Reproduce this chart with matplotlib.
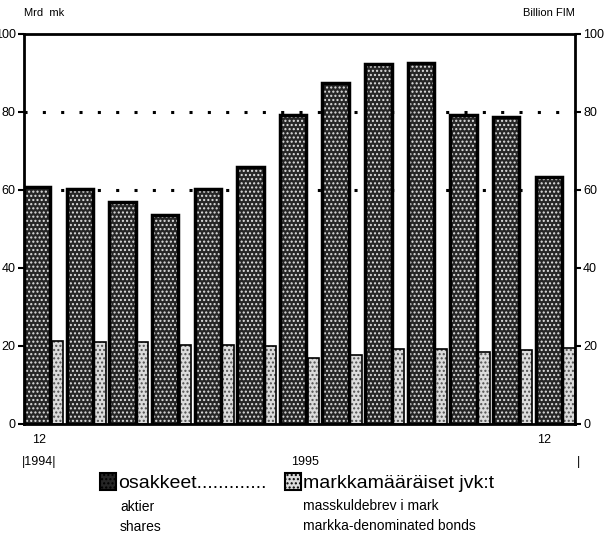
import numpy as np
from matplotlib import pyplot as plt
from matplotlib.patches import Rectangle

plt.rcParams['font.family'] = ['Liberation Sans', 'DejaVu Sans']

# month index 0..12 (Dec 1994 .. Dec 1995)
months = list(range(13))
shares = [60.8, 60.3, 56.9, 53.6, 60.3, 65.9, 79.2, 87.4, 92.3, 92.6, 79.2, 78.7, 63.3]
bonds = [21.3, 21.0, 21.0, 20.3, 20.3, 20.0, 16.9, 17.7, 19.2, 19.2, 18.5, 19.0, 19.5]
yticks = [0, 20, 40, 60, 80, 100]

dark_w = 0.62
light_off = 0.65
light_w = 0.27

fig = plt.figure(figsize=(6.06, 5.39), dpi=100)
ax = fig.add_axes([0.0396, 0.2134, 0.909, 0.7236])

x = np.array(months)
for lev in [60, 80]:
    ax.axhline(lev, color='black', linestyle=(0, (1, 5)), linewidth=2.2, zorder=0)

# dark bars: fill + white dot texture + black border
ax.bar(x, shares, width=dark_w, align='edge', color='#262626', linewidth=0, zorder=2)
ax.bar(x, shares, width=dark_w, align='edge', fill=False, hatch='....',
       edgecolor='#e0e0e0', linewidth=0, zorder=3)
ax.bar(x, shares, width=dark_w, align='edge', fill=False, edgecolor='black',
       linewidth=2.5, zorder=4)
# light bars
ax.bar(x + light_off, bonds, width=light_w, align='edge', color='#dcdcdc', linewidth=0, zorder=2)
ax.bar(x + light_off, bonds, width=light_w, align='edge', fill=False, hatch='....',
       edgecolor='#505050', linewidth=0, zorder=3)
ax.bar(x + light_off, bonds, width=light_w, align='edge', fill=False, edgecolor='black',
       linewidth=1.2, zorder=4)

ax.set_xlim(0, 12 + light_off + light_w)
ax.set_ylim(0, 100)
ax.set_yticks(yticks)
ax.set_yticklabels([str(v) for v in yticks], fontsize=9)
ax.tick_params(axis='y', direction='out', length=4, width=1.5, pad=2,
               left=True, right=True, labelleft=True, labelright=True)
ax.set_xticks([])
for sp in ax.spines.values():
    sp.set_linewidth(2)

ax.text(0, 104, 'Mrd  mk', fontsize=8, ha='left', va='bottom')
ax.text(12.92, 104, 'Billion FIM', fontsize=8, ha='right', va='bottom')

# x labels
ax.text(0.35, -2.6, '12', fontsize=9, ha='center', va='top', clip_on=False)
ax.text(0.35, -8.3, '|1994|', fontsize=9, ha='center', va='top', clip_on=False)
ax.text(6.6, -8.3, '1995', fontsize=9, ha='center', va='top', clip_on=False)
ax.text(12.2, -2.6, '12', fontsize=9, ha='center', va='top', clip_on=False)
ax.text(13.0, -8.3, '|', fontsize=9, ha='center', va='top', clip_on=False)

# legend
def legend_box(xp, yp, fc, hc):
    r = Rectangle((xp / 606, 1 - yp / 539), 16 / 606, 17 / 539, transform=fig.transFigure,
                  facecolor=fc, edgecolor='black', linewidth=1.5, hatch='....')
    fig.patches.append(r)

legend_box(100, 490, '#262626', '#e0e0e0')
legend_box(285, 490, '#dcdcdc', '#505050')
fig.text(118 / 606, 1 - 483 / 539, 'osakkeet.............', fontsize=14, va='center', ha='left')
fig.text(120 / 606, 1 - 507 / 539, 'aktier', fontsize=10, va='center', ha='left')
fig.text(120 / 606, 1 - 527 / 539, 'shares', fontsize=10, va='center', ha='left')
fig.text(303 / 606, 1 - 483 / 539, 'markkamääräiset jvk:t', fontsize=14, va='center', ha='left')
fig.text(303 / 606, 1 - 506 / 539, 'masskuldebrev i mark', fontsize=10, va='center', ha='left')
fig.text(303 / 606, 1 - 526 / 539, 'markka-denominated bonds', fontsize=10, va='center', ha='left')

fig.savefig('out.png', dpi=100)
